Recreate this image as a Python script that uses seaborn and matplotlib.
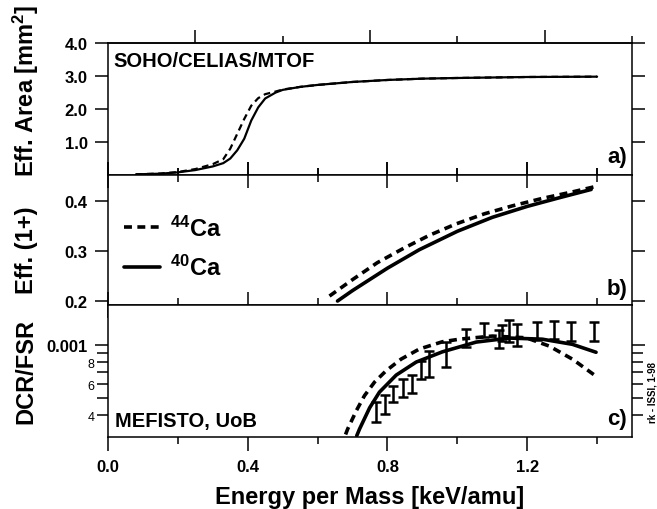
import matplotlib
matplotlib.use("Agg")
import matplotlib.pyplot as plt
import matplotlib.ticker as mticker
import numpy as np
import pandas as pd
import seaborn as sns

# a) effective area, SOHO/CELIAS/MTOF
e_area = [0.08, 0.15, 0.2, 0.25, 0.3, 0.33, 0.35, 0.37, 0.39, 0.41, 0.43, 0.45,
          0.48, 0.5, 0.55, 0.6, 0.7, 0.8, 0.9, 1.0, 1.2, 1.4]
area_40ca = [0.02, 0.04, 0.08, 0.15, 0.26, 0.36, 0.5, 0.75, 1.1, 1.65, 2.05, 2.32,
             2.5, 2.58, 2.67, 2.73, 2.82, 2.88, 2.92, 2.94, 2.97, 2.98]
area_44ca = [0.02, 0.045, 0.09, 0.18, 0.33, 0.48, 0.8, 1.25, 1.7, 2.1, 2.33, 2.45,
             2.53, 2.59, 2.67, 2.73, 2.82, 2.88, 2.92, 2.94, 2.97, 2.98]

# b) efficiency for 1+ charge state
e_eff_40 = [0.657, 0.70, 0.80, 0.891, 1.0, 1.1, 1.2, 1.29, 1.383]
eff_40ca = [0.200, 0.221, 0.266, 0.303, 0.340, 0.368, 0.390, 0.407, 0.424]
e_eff_44 = [0.634, 0.70, 0.771, 0.849, 0.92, 0.997, 1.077, 1.157, 1.243, 1.329, 1.39]
eff_44ca = [0.210, 0.243, 0.277, 0.307, 0.332, 0.355, 0.375, 0.391, 0.406, 0.419, 0.429]

# c) DCR/FSR, MEFISTO
e_dcr_40 = [0.712, 0.72, 0.749, 0.777, 0.825, 0.882, 0.957, 1.054, 1.149, 1.243, 1.329, 1.397]
dcr_40ca = [3.05e-4, 3.33e-4, 4.4e-4, 5.4e-4, 6.75e-4, 8.0e-4, 9.15e-4, 1.04e-3,
            1.096e-3, 1.08e-3, 1.01e-3, 0.91e-3]
e_dcr_44 = [0.68, 0.686, 0.711, 0.734, 0.763, 0.796, 0.839, 0.891, 0.957, 1.006,
            1.1, 1.197, 1.263, 1.33, 1.396]
dcr_44ca = [3.1e-4, 3.33e-4, 4.24e-4, 5.15e-4, 6.16e-4, 7.14e-4, 8.32e-4, 9.49e-4,
            1.044e-3, 1.08e-3, 1.125e-3, 1.1e-3, 0.987e-3, 0.83e-3, 0.667e-3]

# measured ratios (lower / upper end of each bar)
e_meas = [0.768, 0.793, 0.817, 0.844, 0.871, 0.896, 0.92, 0.968, 1.025, 1.077,
          1.12, 1.129, 1.149, 1.17, 1.229, 1.277, 1.325, 1.391]
meas_low = [3.64e-4, 4.06e-4, 4.72e-4, 5.08e-4, 5.32e-4, 6.41e-4, 6.58e-4, 7.5e-4,
            9.74e-4, 1.11e-3, 9.61e-4, 1.054e-3, 1.04e-3, 0.987e-3, 1.067e-3,
            1.082e-3, 1.054e-3, 1.054e-3]
meas_high = [4.72e-4, 5.2e-4, 5.88e-4, 6.41e-4, 6.76e-4, 8.11e-4, 9.24e-4, 1.04e-3,
             1.233e-3, 1.333e-3, 1.217e-3, 1.30e-3, 1.397e-3, 1.315e-3, 1.352e-3,
             1.369e-3, 1.352e-3, 1.352e-3]

sns.set_theme(style="ticks")
plt.rcParams.update({
    "font.family": ["Liberation Sans", "DejaVu Sans"],
    "font.weight": "bold",
    "axes.labelweight": "bold",
    "mathtext.fontset": "custom",
    "mathtext.rm": "Liberation Sans:bold",
    "mathtext.bf": "Liberation Sans:bold",
    "mathtext.it": "Liberation Sans:bold",
    "mathtext.default": "rm",
    "text.color": "black",
    "axes.labelcolor": "black",
    "axes.edgecolor": "black",
    "axes.linewidth": 1.1,
    "xtick.color": "black",
    "ytick.color": "black",
})

fig, axes = plt.subplots(3, 1, sharex=True, figsize=(6.57, 5.10), dpi=100,
                         gridspec_kw={"height_ratios": [132, 130, 132], "hspace": 0})
fig.subplots_adjust(left=0.1644, right=0.962, top=0.9137, bottom=0.1412)
ax_a, ax_b, ax_c = axes

dash_fine = (0, (3.0, 2.0))
dash_bold = (0, (2.2, 1.5))

# panel a
sns.lineplot(x=e_area, y=area_44ca, ax=ax_a, color="black", lw=1.6, linestyle=dash_fine)
sns.lineplot(x=e_area, y=area_40ca, ax=ax_a, color="black", lw=1.6)
ax_a.set_ylim(0, 4.0)
ax_a.yaxis.set_major_locator(mticker.FixedLocator([1, 2, 3, 4]))
ax_a.yaxis.set_major_formatter(mticker.FormatStrFormatter("%.1f"))

# panel b
sns.lineplot(x=e_eff_44, y=eff_44ca, ax=ax_b, color="black", lw=2.6,
             linestyle=dash_bold, label="$^{44}$Ca")
sns.lineplot(x=e_eff_40, y=eff_40ca, ax=ax_b, color="black", lw=2.6, label="$^{40}$Ca")
ax_b.set_ylim(0.192, 0.453)
ax_b.yaxis.set_major_locator(mticker.FixedLocator([0.2, 0.3, 0.4]))
ax_b.yaxis.set_major_formatter(mticker.FormatStrFormatter("%.1f"))
ax_b.legend(loc="upper left", bbox_to_anchor=(0.03, 0.69), frameon=False, fontsize=17,
            handlelength=1.55, handletextpad=0.4, labelspacing=0.62, borderpad=0,
            borderaxespad=0)

# panel c
sns.lineplot(x=e_dcr_44, y=dcr_44ca, ax=ax_c, color="black", lw=2.6, linestyle=dash_bold)
sns.lineplot(x=e_dcr_40, y=dcr_40ca, ax=ax_c, color="black", lw=2.6)
low = np.array(meas_low)
high = np.array(meas_high)
mid = np.sqrt(low * high)
ax_c.errorbar(e_meas, mid, yerr=[mid - low, high - mid], fmt="none", ecolor="black",
              elinewidth=1.8, capsize=3.5, capthick=1.8)
ax_c.set_yscale("log")
ax_c.set_ylim(3.0e-4, 1.69e-3)
ax_c.yaxis.set_major_locator(mticker.FixedLocator([1e-3]))
ax_c.yaxis.set_major_formatter(mticker.FixedFormatter(["0.001"]))
minor_c = [4e-4, 5e-4, 6e-4, 7e-4, 8e-4, 9e-4]
ax_c.yaxis.set_minor_locator(mticker.FixedLocator(minor_c))
ax_c.yaxis.set_minor_formatter(mticker.FixedFormatter(["4", "", "6", "", "8", ""]))

ax_c.set_xlim(0, 1.5)
ax_c.xaxis.set_major_locator(mticker.MultipleLocator(0.4))
ax_c.xaxis.set_minor_locator(mticker.MultipleLocator(0.2))
ax_c.xaxis.set_major_formatter(mticker.FormatStrFormatter("%.1f"))

for ax in axes:
    ax.set_xlabel("")
    ax.set_ylabel("")
    ax.tick_params(axis="y", which="major", direction="out", left=True, right=True,
                   length=9.5, width=1.1, labelsize=12, pad=5)
    ax.tick_params(axis="y", which="minor", direction="out", left=True, right=True,
                   length=8, width=1.1, labelsize=9, pad=1.5)

# x ticks per panel
ax_a.tick_params(axis="x", which="major", direction="in", bottom=True, top=False,
                 length=9.5, width=1.1)
ax_a.tick_params(axis="x", which="minor", direction="in", bottom=True, top=False,
                 length=5, width=1.1)
sec = ax_a.secondary_xaxis("top")
sec.xaxis.set_major_locator(mticker.FixedLocator([0.25, 0.75, 1.25]))
sec.xaxis.set_minor_locator(mticker.FixedLocator([0.5, 1.0, 1.5]))
sec.xaxis.set_major_formatter(mticker.NullFormatter())
sec.tick_params(which="major", direction="out", length=9.5, width=1.1)
sec.tick_params(which="minor", direction="out", length=5, width=1.1)
sec.spines["top"].set_linewidth(1.1)

ax_b.tick_params(axis="x", which="major", direction="inout", bottom=True, top=True,
                 length=19, width=1.1)
ax_b.tick_params(axis="x", which="minor", direction="inout", bottom=True, top=True,
                 length=10, width=1.1)
ax_c.tick_params(axis="x", which="major", direction="out", bottom=True, top=False,
                 length=10, width=1.1, labelsize=12, pad=6)
ax_c.tick_params(axis="x", which="minor", direction="out", bottom=True, top=False,
                 length=5, width=1.1)
for lbl in ax_c.get_yticklabels(minor=True):
    lbl.set_fontweight("normal")

ax_c.set_xlabel("Energy per Mass [keV/amu]", fontsize=17, fontweight="bold", labelpad=8)

# panel texts
ax_a.text(0.0095, 0.828, "SOHO/CELIAS/MTOF", transform=ax_a.transAxes,
          fontsize=14.5, va="baseline", ha="left")
ax_c.text(0.0134, 0.086, "MEFISTO, UoB", transform=ax_c.transAxes,
          fontsize=14.5, va="baseline", ha="left")
for ax, tag, yb in [(ax_a, "a)", 0.096), (ax_b, "b)", 0.085), (ax_c, "c)", 0.098)]:
    ax.text(0.9905, yb, tag, transform=ax.transAxes, fontsize=16,
            va="baseline", ha="right")

fig.text(0.040, 0.8216, "Eff. Area [mm$^2$]", rotation=90, fontsize=17,
         ha="center", va="center")
fig.text(0.040, 0.51, "Eff. (1+)", rotation=90, fontsize=17, ha="center", va="center")
fig.text(0.040, 0.2725, "DCR/FSR", rotation=90, fontsize=17, ha="center", va="center")
fig.text(0.9924, 0.231, "rk - ISSI, 1-98", rotation=90, fontsize=7,
         ha="center", va="center")

fig.savefig("out.png", dpi=100)
